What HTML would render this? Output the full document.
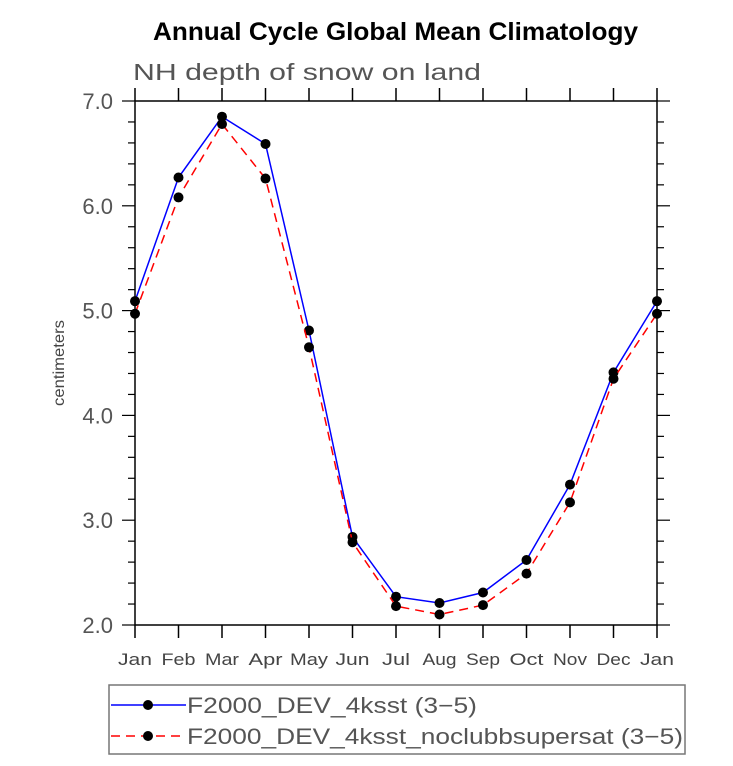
<!DOCTYPE html>
<html><head><meta charset="utf-8"><style>
body{margin:0;background:#fff;width:733px;height:761px;overflow:hidden}
svg text{font-family:"Liberation Sans",sans-serif}
</style></head><body>
<svg id="chart" width="733" height="761">
<text x="153" y="40" textLength="485" lengthAdjust="spacingAndGlyphs" font-size="25" font-weight="bold" fill="#000">Annual Cycle Global Mean Climatology</text>
<text x="133" y="80" textLength="348" lengthAdjust="spacingAndGlyphs" font-size="23" fill="#555">NH depth of snow on land</text>
<text transform="translate(64,363) rotate(-90)" text-anchor="middle" textLength="86" lengthAdjust="spacingAndGlyphs" font-size="16" fill="#444">centimeters</text>
<g id="axes"></g>
<g id="series"></g>
<g>
<rect x="109" y="685" width="576" height="69" fill="none" stroke="#777" stroke-width="1.5"/>
<g>
<line x1="111" y1="705" x2="186" y2="705" stroke="#0000ff" stroke-width="1.5"/>
<circle cx="148" cy="705" r="5" fill="#000"/>
<text x="187" y="713" textLength="290" lengthAdjust="spacingAndGlyphs" font-size="22" fill="#555">F2000_DEV_4ksst (3−5)</text>
</g>
<g>
<line x1="111" y1="736" x2="186" y2="736" stroke="#ff0000" stroke-width="1.5" stroke-dasharray="9,6"/>
<circle cx="148" cy="736" r="5" fill="#000"/>
<text x="187" y="744" textLength="496" lengthAdjust="spacingAndGlyphs" font-size="22" fill="#555">F2000_DEV_4ksst_noclubbsupersat (3−5)</text>
</g>
</g>
</svg>
<script>
const months=["Jan","Feb","Mar","Apr","May","Jun","Jul","Aug","Sep","Oct","Nov","Dec","Jan"];
const yTicks=["2.0","3.0","4.0","5.0","6.0","7.0"];
const blueVals=[5.09,6.27,6.85,6.59,4.81,2.84,2.27,2.21,2.31,2.62,3.34,4.41,5.09];
const redVals=[4.97,6.08,6.78,6.26,4.65,2.79,2.18,2.10,2.19,2.49,3.17,4.35,4.97];
const X0=135,X1=657,Y0=625,Y1=101,VMIN=2,VMAX=7;
const xs=i=>X0+(X1-X0)*i/12;
const ys=v=>Y0-(Y0-Y1)*(v-VMIN)/(VMAX-VMIN);
const NS="http://www.w3.org/2000/svg";
function mk(t,a,p){const e=document.createElementNS(NS,t);for(const k in a)e.setAttribute(k,a[k]);p.appendChild(e);return e;}
const ax=document.getElementById('axes');
const frame=mk('rect',{x:X0,y:Y1,width:X1-X0,height:Y0-Y1,fill:'none',stroke:'#000','stroke-width':1.5},ax);


months.forEach((m,i)=>{
  const x=xs(i);
  mk('line',{x1:x,y1:Y0,x2:x,y2:Y0+13,stroke:'#000','stroke-width':1.5},ax);
  mk('line',{x1:x,y1:Y1,x2:x,y2:Y1-13,stroke:'#000','stroke-width':1.5},ax);
  const w=m==='May'?38:(m==='Jul'?28:34);
  const t=mk('text',{x:x,y:665,'text-anchor':'middle','font-size':17,fill:'#444',textLength:w,lengthAdjust:'spacingAndGlyphs'},ax);
  t.textContent=m;
  
  
});
for(let v=VMIN;v<=VMAX+1e-9;v+=0.2){
  const y=ys(v);const major=Math.abs(v-Math.round(v))<1e-6;const L=major?13:7;
  mk('line',{x1:X0,y1:y,x2:X0-L,y2:y,stroke:'#000','stroke-width':1.2},ax);
  mk('line',{x1:X1,y1:y,x2:X1+L,y2:y,stroke:'#000','stroke-width':1.2},ax);
}
yTicks.forEach(s=>{
  const t=mk('text',{x:113,y:ys(parseFloat(s))+8,'text-anchor':'end','font-size':22,fill:'#555'},ax);
  t.textContent=s;
  
  
});
const sg=document.getElementById('series');
function draw(vals,color,dash,name){
  const g=mk('g',{},sg);
  
  
  const pts=vals.map((v,i)=>xs(i)+','+ys(v)).join(' ');
  const a={points:pts,fill:'none',stroke:color,'stroke-width':1.5};
  if(dash)a['stroke-dasharray']=dash;
  mk('polyline',a,g);
  vals.forEach((v,i)=>{
    const c=mk('circle',{cx:xs(i),cy:ys(v),r:5,fill:'#000'},g);
    
    
  });
}
draw(blueVals,'#0000ff',null,'series-4ksst');
draw(redVals,'#ff0000','9,6','series-noclubbsupersat');
</script>
</body></html>
